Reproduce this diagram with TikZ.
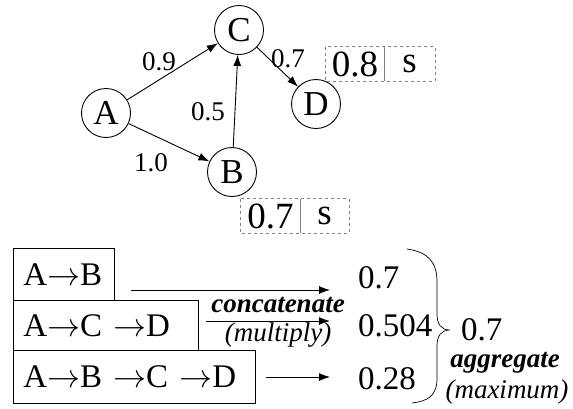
\RequirePackage{fix-cm}
\documentclass[tikz,border=0pt]{standalone}
\usepackage{fontspec}
\setmainfont{Liberation Serif}
\usetikzlibrary{arrows.meta}
\newcommand{\ra}{\ensuremath{\rightarrow}}
\begin{document}
\begin{tikzpicture}[x=1pt,y=-1pt,
  vert/.style={circle,draw,line width=0.9pt,minimum size=49pt,inner sep=0pt,font=\fontsize{35}{38}\selectfont},
  arr/.style={-{Latex[length=11pt,width=8pt]},line width=0.9pt},
  elab/.style={font=\fontsize{27}{30}\selectfont,inner sep=0pt},
  cell/.style={inner sep=0pt,minimum height=34pt,font=\fontsize{37}{39}\selectfont},
  dashbox/.style={draw=gray,dashed,line width=0.8pt},
  divider/.style={draw=gray,line width=0.8pt},
  pbox/.style={draw,line width=0.8pt,anchor=north west,inner xsep=10pt,inner ysep=0pt,align=left,font=\fontsize{33}{36}\selectfont},
  val/.style={inner sep=0pt,font=\fontsize{33}{35}\selectfont},
  note/.style={inner sep=0pt,font=\fontsize{27}{30}\selectfont},
]
\useasboundingbox (0,0) rectangle (573,408);

% graph
\node[vert] (A) at (106,113) {A};
\node[vert] (C) at (239,30) {C};
\node[vert] (D) at (316,104) {D};
\node[vert] (B) at (232,172) {B};
\draw[arr] (A) -- (C);
\draw[arr] (A) -- (B);
\draw[arr] (B) -- (C);
\draw[arr] (C) -- (D);
\node[elab] (lAC) at (159,62) {0.9};
\node[elab] (lCD) at (288,59) {0.7};
\node[elab] (lBC) at (208,112) {0.5};
\node[elab] (lAB) at (151,163) {1.0};

% dashed boxes
\node[cell,minimum width=59pt] (b1) at (270.5,216) {0.7};
\node[cell,minimum width=49pt] (b2) at (324.5,216) {s};
\draw[dashbox] (b1.north west) rectangle (b2.south east);
\draw[divider] (b1.north east) -- (b1.south east);
\node[cell,minimum width=58pt] (d1) at (355,64) {0.8};
\node[cell,minimum width=51pt] (d2) at (409.5,64) {s};
\draw[dashbox] (d1.north west) rectangle (d2.south east);
\draw[divider] (d1.north east) -- (d1.south east);

% paths
\node[pbox,text width=81pt,minimum height=52pt] (p1) at (13,248) {A\ra B};
\node[pbox,text width=165pt,minimum height=50pt] (p2) at (13,300) {A\ra C \ra D};
\node[pbox,text width=222pt,minimum height=53pt] (p3) at (13,350) {A\ra B \ra C \ra D};

% values
\node[val,anchor=base west] (v1) at (358,288) {0.7};
\node[val,anchor=base west] (v2) at (358,336) {0.504};
\node[val,anchor=base west] (v3) at (358,389) {0.28};

\coordinate (s1) at (131,290);
\coordinate (e1) at (330,290);
\coordinate (s2) at (206,321);
\coordinate (e2) at (330,321);
\coordinate (s3) at (266,377);
\coordinate (e3) at (330,377);
\draw[arr] (s1) -- (e1);
\draw[arr] (s2) -- (e2);
\draw[arr] (s3) -- (e3);

\node[note,anchor=base] (cat) at (278,312) {\textbf{\textit{concatenate}}};
\node[note,anchor=base] (mul) at (278,341) {\textit{(multiply)}};

% brace
\coordinate (bt) at (407,249);
\coordinate (tip) at (450,330);
\coordinate (bb) at (412,403);
\draw[line width=0.7pt] (bt) .. controls (428,252) and (437,262) .. (437,282) -- (437,314)
  .. controls (437,324) and (441,330) .. (tip)
  .. controls (441,330) and (437,336) .. (437,346) -- (437,378)
  .. controls (437,396) and (428,401) .. (bb);

\node[val,anchor=base west] (res) at (461,340) {0.7};
\node[note,anchor=base] (agg) at (505,367) {\textbf{\textit{aggregate}}};
\node[note,anchor=base] (max) at (507,398) {\textit{(maximum)}};
\end{tikzpicture}
\end{document}
